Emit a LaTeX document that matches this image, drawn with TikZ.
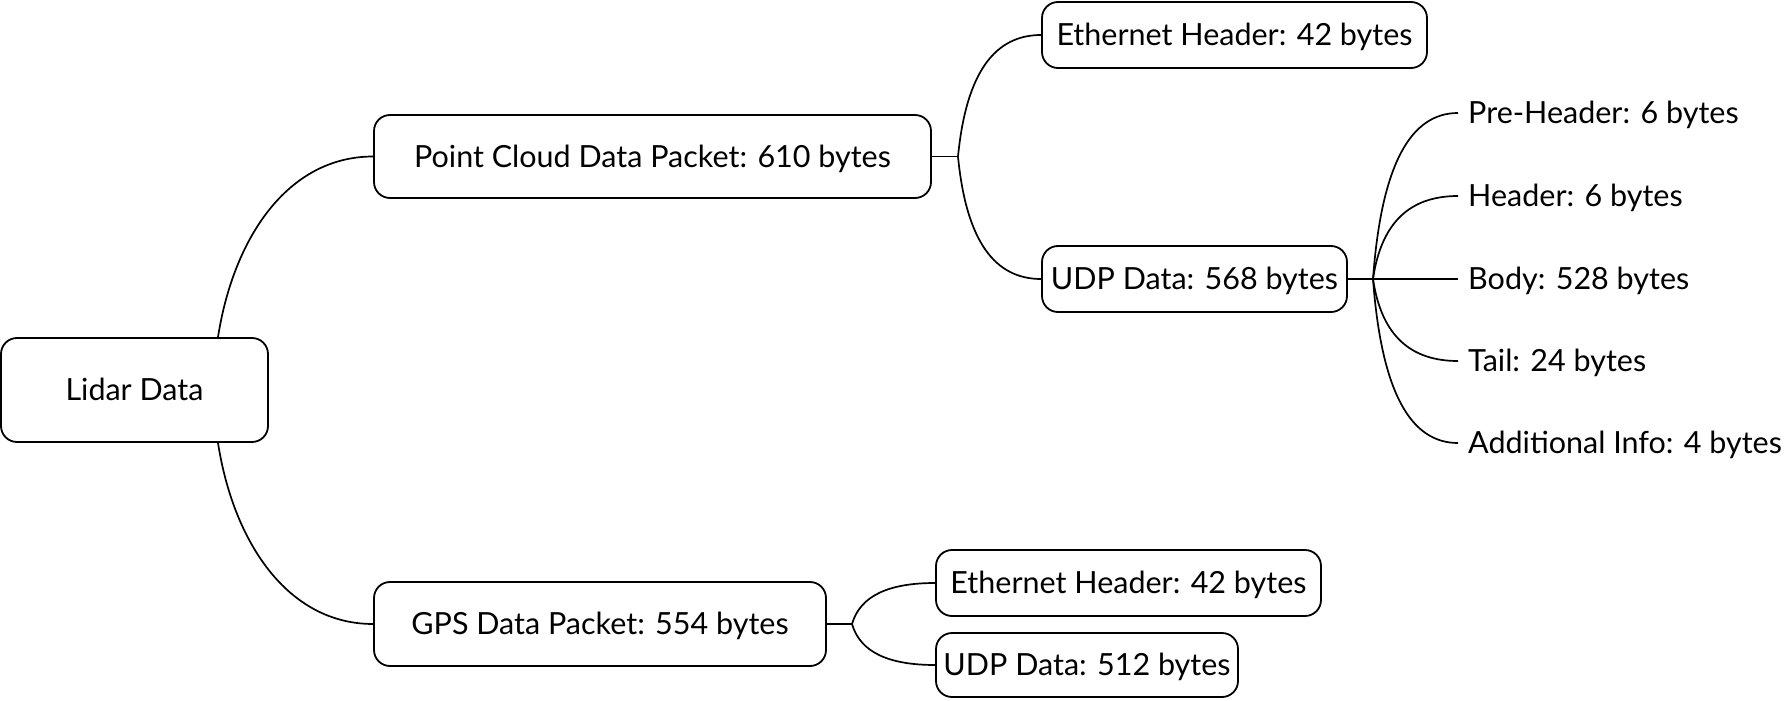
\documentclass[tikz,border=0pt]{standalone}
\usepackage{fontspec}
\setmainfont{Lato}
\usetikzlibrary{calc}
\tikzset{
  box/.style={draw, line width=1.8pt, rounded corners=16pt, inner sep=0pt,
    text height=21.5pt, text depth=0pt, font=\fontsize{30.5pt}{36pt}\selectfont},
  leaf/.style={inner xsep=10pt, inner ysep=0pt, anchor=west,
    text height=21.5pt, text depth=0pt, font=\fontsize{30.5pt}{36pt}\selectfont},
  conn/.style={line width=1.7pt},
  branch/.style={to path={let \p1=(\tikztostart),\p2=(\tikztotarget) in
    .. controls ({\x1+0.1*(\x2-\x1)},{\y1+#1*(\y2-\y1)}) and ({\x1+0.45*(\x2-\x1)},\y2) .. (\tikztotarget)}},
  branch/.default=0.7
}
\begin{document}
\begin{tikzpicture}[x=1pt,y=-1pt]
\useasboundingbox (0,0) rectangle (1786,701);
% nodes
\node[box, minimum width=267pt, minimum height=104pt] (lidar) at (134.5,390) {Lidar Data};
\node[box, minimum width=557pt, minimum height=83pt] (pc) at (652.5,156.5) {Point Cloud Data Packet: 610 bytes};
\node[box, minimum width=385pt, minimum height=66pt] (eth1) at (1234.5,35) {Ethernet Header: 42 bytes};
\node[box, minimum width=305pt, minimum height=66pt] (udp1) at (1194.5,279) {UDP Data: 568 bytes};
\node[box, minimum width=452pt, minimum height=84pt] (gps) at (600,624) {GPS Data Packet: 554 bytes};
\node[box, minimum width=385pt, minimum height=66pt] (eth2) at (1128.5,583) {Ethernet Header: 42 bytes};
\node[box, minimum width=302pt, minimum height=64pt] (udp2) at (1087,665) {UDP Data: 512 bytes};
\node[leaf] (pre) at (1458,113) {Pre-Header: 6 bytes};
\node[leaf] (hdr) at (1458,196) {Header: 6 bytes};
\node[leaf] (body) at (1458,279) {Body: 528 bytes};
\node[leaf] (tail) at (1458,361) {Tail: 24 bytes};
\node[leaf] (add) at (1458,443) {Additional Info: 4 bytes};
% fork points
\coordinate (lidarT) at ([xshift=83.5pt]lidar.north);
\coordinate (lidarB) at ([xshift=83.5pt]lidar.south);
\coordinate (pcF) at (958,156.5);
\coordinate (udpF) at (1373,279);
\coordinate (gpsF) at (852,624);
% connectors
\draw[conn] (lidarT) to[branch=0.55] (pc.west);
\draw[conn] (lidarB) to[branch=0.55] (gps.west);
\draw[conn] (pc.east) -- (pcF);
\draw[conn] (pcF) to[branch] (eth1.west);
\draw[conn] (pcF) to[branch] (udp1.west);
\draw[conn] (udp1.east) -- (udpF);
\draw[conn] (udpF) to[branch] (pre.west);
\draw[conn] (udpF) to[branch] (hdr.west);
\draw[conn] (udpF) -- (body.west);
\draw[conn] (udpF) to[branch] (tail.west);
\draw[conn] (udpF) to[branch] (add.west);
\draw[conn] (gps.east) -- (gpsF);
\draw[conn] (gpsF) to[branch] (eth2.west);
\draw[conn] (gpsF) to[branch] (udp2.west);
\end{tikzpicture}
\end{document}
